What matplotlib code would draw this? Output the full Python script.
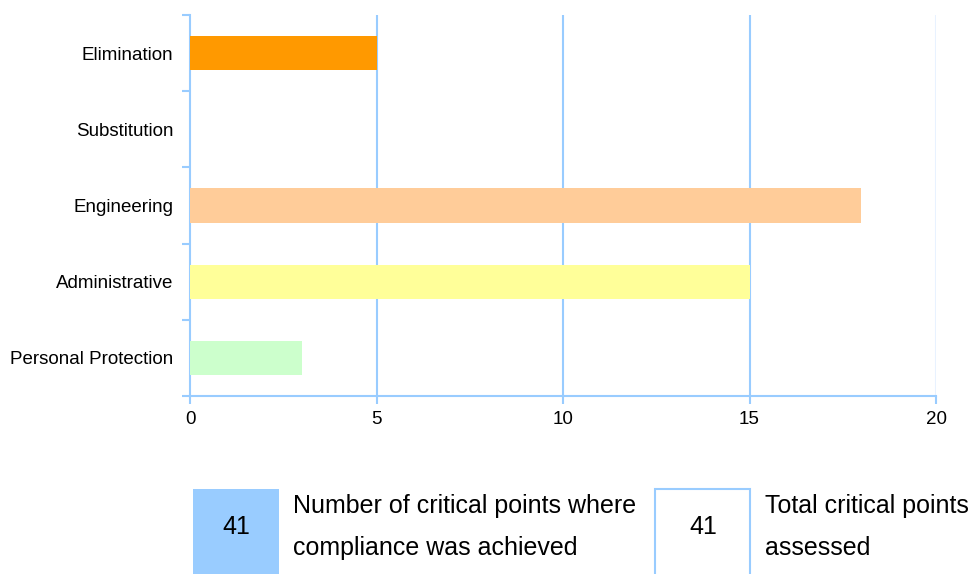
import matplotlib.pyplot as plt
import matplotlib.patches as patches
import numpy as np

plt.rcParams['font.family'] = ['Liberation Sans', 'DejaVu Sans']

# Données
categories = ['Elimination', 'Substitution', 'Engineering', 'Administrative', 'Personal Protection']
values = [5, 0, 18, 15, 3]
colors = ['#ff9900', '#ffcc99', '#ffcc99', '#ffff99', '#ccffcc']
x_ticks = [0, 5, 10, 15, 20]

compliance_count = 41
total_count = 41
compliance_label = 'Number of critical points where\ncompliance was achieved'
total_label = 'Total critical points\nassessed'

blue = '#99ccff'

fig = plt.figure(figsize=(9.73, 5.74), dpi=100)
ax = fig.add_axes([190/973, 1 - 396/574, (936 - 190)/973, (396 - 15)/574])

y = np.arange(len(categories))
ax.barh(y, values, height=0.45, color=colors, zorder=3)
ax.set_ylim(len(categories) - 0.5, -0.5)
ax.set_xlim(0, 20)

ax.set_xticks(x_ticks)
ax.set_yticks(y)
ax.set_yticklabels(categories)
ax.set_yticks(np.arange(-0.5, len(categories)), minor=True)
ax.tick_params(axis='y', which='major', length=0, pad=12, labelsize=13.5)
ax.tick_params(axis='y', which='minor', length=6, color=blue, width=1.5)
ax.tick_params(axis='x', length=6, color=blue, width=1.5, labelsize=13.5, pad=5)

# Lignes de grille verticales
for t in x_ticks[1:-1]:
    ax.axvline(t, color=blue, lw=1.5, zorder=1)
ax.axvline(x_ticks[-1], color='#e8f2ff', lw=1.5, zorder=1)

for s in ['top', 'right']:
    ax.spines[s].set_visible(False)
for s in ['left', 'bottom']:
    ax.spines[s].set_color(blue)
    ax.spines[s].set_linewidth(1.5)

# Boîtes du bas
box1 = patches.Rectangle((193/973, 0), (279 - 193)/973, (574 - 489)/574,
                         transform=fig.transFigure, facecolor=blue, edgecolor='none')
fig.patches.append(box1)
fig.text(236/973, 1 - 527/574, str(compliance_count), ha='center', va='center', fontsize=18)
fig.text(293/973, 1 - 527/574, compliance_label, ha='left', va='center', fontsize=18, linespacing=1.95)

box2 = patches.Rectangle((655/973, -0.01), (750 - 655)/973, (574 - 489)/574 + 0.01,
                         transform=fig.transFigure, facecolor='white', edgecolor=blue, lw=1.5)
fig.patches.append(box2)
fig.text(703/973, 1 - 527/574, str(total_count), ha='center', va='center', fontsize=18)
fig.text(765/973, 1 - 527/574, total_label, ha='left', va='center', fontsize=18, linespacing=1.95)

plt.savefig('out.png', dpi=100, facecolor='white')
